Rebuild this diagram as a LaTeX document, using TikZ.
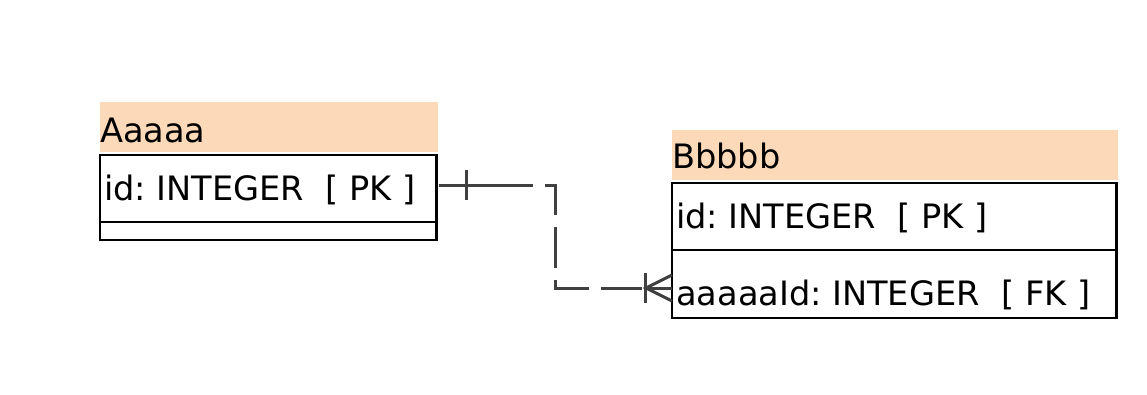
\documentclass[tikz,border=0pt]{standalone}
\usepackage{fontspec}
\setmainfont{DejaVu Sans}
\usetikzlibrary{calc}
\frenchspacing

\definecolor{headfill}{RGB}{251,217,185}
\definecolor{relgray}{RGB}{64,64,64}

\begin{document}
\begin{tikzpicture}[x=1pt, y=-1pt,
head/.style={fill=headfill, anchor=north west, inner sep=0pt, outer sep=0pt, minimum height=50pt},
cell/.style={draw=black, line width=2.5pt, anchor=north west, inner sep=0pt, outer sep=0pt},
txt/.style={anchor=base west, inner sep=0pt, font=\fontsize{33.6}{40}\selectfont},
rel/.style={draw=relgray, line width=3pt},
]
\useasboundingbox (0,0) rectangle (1147,394);

% table Aaaaa
\node[head, minimum width=338pt] (aHead) at (100,102) {};
\node[cell, minimum width=336.7pt, minimum height=67pt] (aId) at (100,155) {};
\node[cell, minimum width=336.7pt, minimum height=18pt] (aRest) at (aId.south west) {};
\node[txt] (aTitle) at (100,142) {Aaaaa};
\node[txt] (aIdTxt) at (104,200) {id: INTEGER\ \ [ PK ]};

% table Bbbbb
\node[head, minimum width=446pt] (bHead) at (672,130) {};
\node[cell, minimum width=444.5pt, minimum height=67pt] (bId) at (672,183) {};
\node[cell, minimum width=444.5pt, minimum height=68pt] (bFk) at (bId.south west) {};
\node[txt] (bTitle) at (672,168) {Bbbbb};
\node[txt] (bIdTxt) at (676,228) {id: INTEGER\ \ [ PK ]};
\node[txt] (bFkTxt) at (676,305) {aaaaaId: INTEGER\ \ [ FK ]};

% relation aaaaaId -> id
\coordinate (aOut) at ([xshift=2pt, yshift=3.5pt]aId.east);
\coordinate (bIn) at ([yshift=-4pt]bFk.west);
\draw[rel, dash pattern=on 41pt off 12pt] (aOut) -| ($(aOut)!.5!(bIn)$) |- (bIn);

% one side
\draw[rel] (aOut) -- ++(56,0);
\draw[rel] ([xshift=28pt, yshift=15pt]aOut) -- ([xshift=28pt, yshift=-15pt]aOut);

% many side
\draw[rel] ([xshift=-27pt]bIn) -- (bIn);
\draw[rel] ([xshift=-27pt, yshift=15pt]bIn) -- ([xshift=-27pt, yshift=-15pt]bIn);
\draw[rel] ([yshift=13pt]bIn) -- ([xshift=-26pt]bIn) -- ([yshift=-13pt]bIn);
\end{tikzpicture}
\end{document}
